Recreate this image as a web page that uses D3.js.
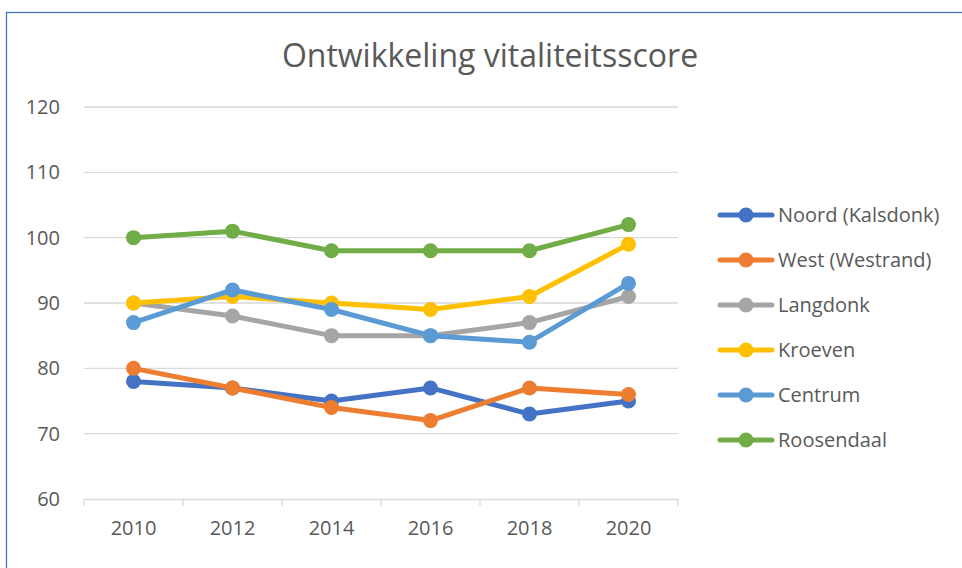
<!DOCTYPE html>
<html>
<head>
<meta charset="utf-8">
<script src="https://cdn.jsdelivr.net/npm/d3@7"></script>
<style>
  html, body { margin: 0; padding: 0; background: #fff; }
  svg { display: block; }
</style>
</head>
<body>
<svg id="chart" width="962" height="568"></svg>
<script>
// Years on the category axis
const years = ["2010", "2012", "2014", "2016", "2018", "2020"];

// Vitality score per district
const noord      = [78, 77, 75, 77, 73, 75];
const west       = [80, 77, 74, 72, 77, 76];
const langdonk   = [90, 88, 85, 85, 87, 91];
const kroeven    = [90, 91, 90, 89, 91, 99];
const centrum    = [87, 92, 89, 85, 84, 93];
const roosendaal = [100, 101, 98, 98, 98, 102];

const seriesNames = ["Noord (Kalsdonk)", "West (Westrand)", "Langdonk", "Kroeven", "Centrum", "Roosendaal"];
const seriesColors = ["#4472c4", "#ed7d31", "#a5a5a5", "#ffc000", "#5b9bd5", "#70ad47"];
const yTicks = [60, 70, 80, 90, 100, 110, 120];

const series = [noord, west, langdonk, kroeven, centrum, roosendaal].map((v, i) => ({
  name: seriesNames[i], color: seriesColors[i], values: v
}));

const svg = d3.select("#chart");
const font = "Open Sans, sans-serif";
const textColor = "#595959";

// Outer frame
svg.append("rect")
  .attr("x", 6.5).attr("y", 12.5)
  .attr("width", 1000).attr("height", 600)
  .attr("fill", "none").attr("stroke", "#4472c4").attr("stroke-width", 1.3);

const plot = { left: 84, right: 678, top: 107, bottom: 499 };

const x = d3.scaleBand().domain(years).range([plot.left, plot.right]);
const y = d3.scaleLinear().domain([60, 120]).range([plot.bottom, plot.top]);

// Title
svg.append("text")
  .attr("x", 490).attr("y", 67)
  .attr("text-anchor", "middle")
  .attr("font-family", font).attr("font-size", 32)
  .attr("fill", textColor)
  .text("Ontwikkeling vitaliteitsscore");

// Horizontal gridlines
svg.append("g")
  .selectAll("line")
  .data(yTicks.slice(1))
  .join("line")
  .attr("x1", plot.left).attr("x2", plot.right)
  .attr("y1", d => y(d)).attr("y2", d => y(d))
  .attr("stroke", "#d9d9d9").attr("stroke-width", 1.3);

// Y axis labels
const yAxis = svg.append("g")
  .attr("transform", `translate(${plot.left},0)`)
  .call(d3.axisLeft(y).tickValues(yTicks).tickSize(0).tickPadding(24));
yAxis.select(".domain").remove();
yAxis.selectAll("text")
  .attr("font-family", font).attr("font-size", 20).attr("fill", textColor);

// X axis with tick marks between categories
const xAxis = svg.append("g")
  .attr("transform", `translate(0,${plot.bottom})`)
  .call(d3.axisBottom(x).tickSize(0).tickPadding(22));
xAxis.select(".domain").attr("stroke", "#d9d9d9").attr("stroke-width", 1.3);
xAxis.selectAll("text")
  .attr("font-family", font).attr("font-size", 20).attr("fill", textColor);
const bounds = years.map(d => x(d)).concat([plot.right]);
svg.append("g")
  .selectAll("line")
  .data(bounds)
  .join("line")
  .attr("x1", d => d).attr("x2", d => d)
  .attr("y1", plot.bottom).attr("y2", plot.bottom + 7)
  .attr("stroke", "#d9d9d9").attr("stroke-width", 1.3);

// Lines and markers
const cx = d => x(d) + x.bandwidth() / 2;
const line = d3.line()
  .x((v, i) => cx(years[i]))
  .y(v => y(v));

const g = svg.append("g");
series.forEach(s => {
  g.append("path")
    .datum(s.values)
    .attr("d", line)
    .attr("fill", "none")
    .attr("stroke", s.color)
    .attr("stroke-width", 5)
    .attr("stroke-linejoin", "round")
    .attr("stroke-linecap", "round");
  g.append("g")
    .selectAll("circle")
    .data(s.values)
    .join("circle")
    .attr("cx", (v, i) => cx(years[i]))
    .attr("cy", v => y(v))
    .attr("r", 7.5)
    .attr("fill", s.color);
});

// Legend
const legend = svg.append("g");
const rowY = d3.scalePoint().domain(seriesNames).range([215, 440]);
series.forEach(s => {
  const ly = rowY(s.name);
  legend.append("line")
    .attr("x1", 720).attr("x2", 772)
    .attr("y1", ly).attr("y2", ly)
    .attr("stroke", s.color).attr("stroke-width", 5)
    .attr("stroke-linecap", "round");
  legend.append("circle")
    .attr("cx", 746).attr("cy", ly).attr("r", 7.5).attr("fill", s.color);
  legend.append("text")
    .attr("x", 778).attr("y", ly)
    .attr("dy", "0.35em")
    .attr("font-family", font).attr("font-size", 20)
    .attr("fill", textColor)
    .text(s.name);
});
</script>
</body>
</html>
